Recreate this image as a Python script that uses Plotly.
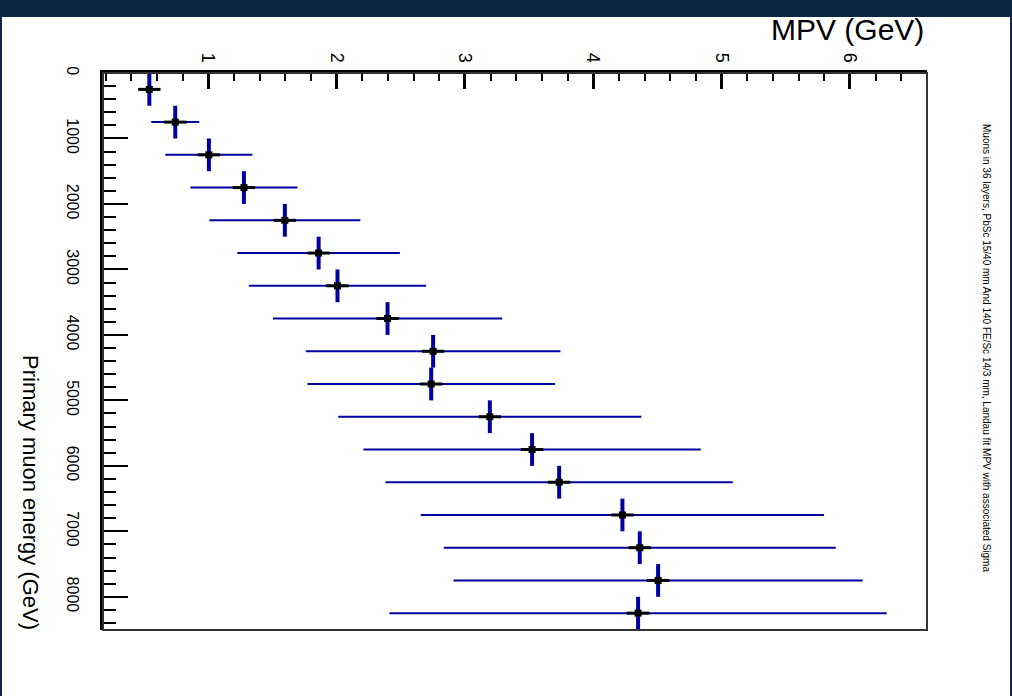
import plotly.graph_objects as go

# Data
energy = [250, 750, 1250, 1750, 2250, 2750, 3250, 3750, 4250, 4750,
          5250, 5750, 6250, 6750, 7250, 7750, 8250]
energy_halfwidth = [250] * 17
mpv = [0.541, 0.743, 1.005, 1.278, 1.597, 1.860, 2.007, 2.397, 2.752, 2.737,
       3.194, 3.523, 3.734, 4.227, 4.362, 4.505, 4.349]
sigma = [0.04, 0.187, 0.339, 0.417, 0.588, 0.633, 0.691, 0.893, 0.992, 0.964,
         1.181, 1.314, 1.353, 1.571, 1.527, 1.594, 1.937]

title_text = ("Muons in 36 layers, PbSc 15/40 mm And 140 FE/Sc 14/3 mm, "
              "Landau fit MPV with associated Sigma")

FONT = "Liberation Sans, Arial, sans-serif"
BLUE = "#0000a0"

W, H = 1012, 696
L, R, T, B = 103, 85, 73, 66
PW, PH = W - L - R, H - T - B


def px(xp):
    return (xp - L) / PW


def py(yp):
    return (H - B - yp) / PH


fig = go.Figure()

# error bars (sigma horizontally, bin half-width vertically)
fig.add_trace(go.Scatter(
    x=mpv, y=energy, mode="markers",
    marker=dict(size=1, color="rgba(0,0,0,0)"),
    error_x=dict(type="data", array=sigma, color=BLUE, thickness=2, width=0),
    error_y=dict(type="data", array=energy_halfwidth, color=BLUE, thickness=4, width=0),
    showlegend=False, hoverinfo="skip"))
# marker: horizontal black arm + black square centre
fig.add_trace(go.Scatter(
    x=mpv, y=energy, mode="markers",
    marker=dict(symbol="line-ew", size=16, line=dict(width=3, color="black"), color="black"),
    showlegend=False, hoverinfo="skip"))
fig.add_trace(go.Scatter(
    x=mpv, y=energy, mode="markers",
    marker=dict(symbol="square", size=7, color="black", line=dict(width=0)),
    showlegend=False))

fig.update_xaxes(
    range=[0.18, 6.6], side="top", showgrid=False, zeroline=False,
    tick0=0, dtick=1, tickangle=90,
    ticks="inside", ticklen=16, tickwidth=3, tickcolor="black",
    showline=True, linewidth=3, linecolor="black", mirror=False,
    tickfont=dict(family=FONT, size=18, color="black"),
    ticklabelstandoff=1,
    minor=dict(dtick=0.2, tick0=0, ticks="inside", ticklen=8, tickwidth=2, tickcolor="black"),
)
fig.update_yaxes(
    range=[8507, 0], showgrid=False, zeroline=False,
    tick0=0, dtick=1000, tickangle=90,
    ticks="inside", ticklen=25, tickwidth=2, tickcolor="black",
    showline=True, linewidth=3, linecolor="black", mirror=False,
    tickfont=dict(family=FONT, size=16, color="black"),
    ticklabelstandoff=14,
    minor=dict(dtick=200, tick0=0, ticks="inside", ticklen=13, tickwidth=2, tickcolor="black"),
)

DARK = "#0f2744"
shapes = [
    dict(type="rect", xref="paper", yref="paper", x0=0, x1=1, y0=0, y1=1,
         line=dict(color="#333333", width=2), fillcolor="rgba(0,0,0,0)", layer="above"),
    dict(type="rect", xref="paper", yref="paper", x0=px(0), x1=px(W), y0=py(17), y1=py(0),
         line=dict(width=0), fillcolor=DARK),
    dict(type="rect", xref="paper", yref="paper", x0=px(0), x1=px(2), y0=py(H), y1=py(0),
         line=dict(width=0), fillcolor=DARK),
    dict(type="rect", xref="paper", yref="paper", x0=px(W - 2), x1=px(W), y0=py(H), y1=py(0),
         line=dict(width=0), fillcolor=DARK),
]

annotations = [
    dict(text="Primary muon energy (GeV)", xref="paper", yref="paper",
         x=px(31), y=py(492), xanchor="center", yanchor="middle", textangle=90,
         showarrow=False, font=dict(family=FONT, size=22, color="black")),
    dict(text=title_text, xref="paper", yref="paper",
         x=px(987), y=py(348), xanchor="center", yanchor="middle", textangle=90,
         showarrow=False, font=dict(family=FONT, size=10, color="black")),
    dict(text="MPV (GeV)", xref="paper", yref="paper",
         x=px(926), y=py(29), xanchor="right", yanchor="middle",
         showarrow=False, font=dict(family=FONT, size=30, color="black")),
]

fig.update_layout(
    width=W, height=H,
    margin=dict(l=L, r=R, t=T, b=B, pad=0),
    paper_bgcolor="white", plot_bgcolor="white",
    shapes=shapes, annotations=annotations,
    showlegend=False,
)

fig.write_html("out.html")
